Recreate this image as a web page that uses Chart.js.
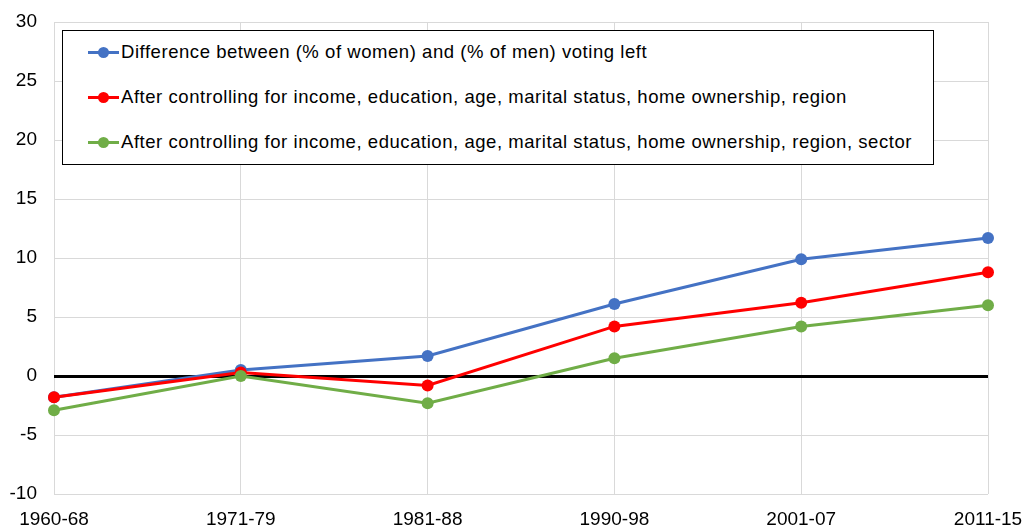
<!DOCTYPE html>
<html>
<head>
<meta charset="utf-8">
<script src="https://cdn.jsdelivr.net/npm/chart.js@4"></script>
<style>
html,body{margin:0;padding:0;background:#fff;}
#wrap{position:relative;width:1025px;height:531px;}
#legend{position:absolute;left:62px;top:30px;width:872px;height:135px;border:1px solid #000;background:#fff;box-sizing:border-box;font-family:"Liberation Sans",Arial,sans-serif;font-size:18.5px;letter-spacing:0.55px;color:#000;}
.item{position:absolute;left:25px;height:22px;display:flex;align-items:center;white-space:nowrap;}
.mk{position:relative;width:31px;height:22px;margin-right:2px;}
.mk .ln{position:absolute;left:0;top:9.5px;width:31px;height:3px;}
.mk .dt{position:absolute;left:10px;top:5.5px;width:11px;height:11px;border-radius:50%;}
</style>
</head>
<body>
<div id="wrap">
<canvas id="c" width="1025" height="531"></canvas>
<div id="legend"></div>
</div>
<script>
const categories = ["1960-68","1971-79","1981-88","1990-98","2001-07","2011-15"];
const seriesLabels = [
  "Difference between (% of women) and (% of men) voting left",
  "After controlling for income, education, age, marital status, home ownership, region",
  "After controlling for income, education, age, marital status, home ownership, region, sector"
];
const diffRaw = [-1.8, 0.5, 1.7, 6.1, 9.9, 11.7];
const ctrlRegion = [-1.8, 0.3, -0.8, 4.2, 6.2, 8.8];
const ctrlSector = [-2.9, 0.0, -2.3, 1.5, 4.2, 6.0];
const yTicks = [-10,-5,0,5,10,15,20,25,30];

const colors = ["#4472C4","#FF0000","#70AD47"];
const values = [diffRaw, ctrlRegion, ctrlSector];

const datasets = values.map((v,i)=>({
  label: seriesLabels[i],
  data: v,
  borderColor: colors[i],
  backgroundColor: colors[i],
  borderWidth: 3,
  pointRadius: 6,
  pointHoverRadius: 6,
  pointBorderWidth: 0,
  tension: 0,
  order: 3 - i
}));

const tickFont = { family: '"Liberation Sans", Arial', size: 19 };

new Chart(document.getElementById('c'), {
  type: 'line',
  data: { labels: categories, datasets },
  options: {
    responsive: false,
    animation: false,
    layout: { padding: { top: 22, right: 37, left: 0, bottom: 0 } },
    plugins: { legend: { display: false }, tooltip: { enabled: false } },
    scales: {
      x: {
        offset: false,
        grid: { color: '#d9d9d9', lineWidth: 1, drawTicks: false },
        border: { display: false },
        ticks: { color: '#000', font: tickFont, padding: 14, maxRotation: 0, autoSkip: false },
        afterFit: s => { s.height = 37; s.paddingLeft = 0; s.paddingRight = 0; }
      },
      y: {
        min: -10, max: 30,
        afterBuildTicks: s => { s.ticks = yTicks.map(v => ({ value: v })); },
        grid: {
          color: c => c.tick && c.tick.value === 0 ? '#000' : '#d9d9d9',
          lineWidth: c => c.tick && c.tick.value === 0 ? 3 : 1,
          drawTicks: false
        },
        border: { display: false },
        ticks: { color: '#000', font: tickFont, padding: 17 },
        afterFit: s => { s.width = 54; s.paddingTop = 0; s.paddingBottom = 0; }
      }
    }
  }
});

const lg = document.getElementById('legend');
seriesLabels.forEach((t,i)=>{
  const d = document.createElement('div');
  d.className = 'item';
  d.style.top = (10 + i*45) + 'px';
  d.innerHTML = '<div class="mk"><div class="ln" style="background:'+colors[i]+'"></div><div class="dt" style="background:'+colors[i]+'"></div></div><span></span>';
  d.querySelector('span').textContent = t;
  lg.appendChild(d);
});
</script>
</body>
</html>
